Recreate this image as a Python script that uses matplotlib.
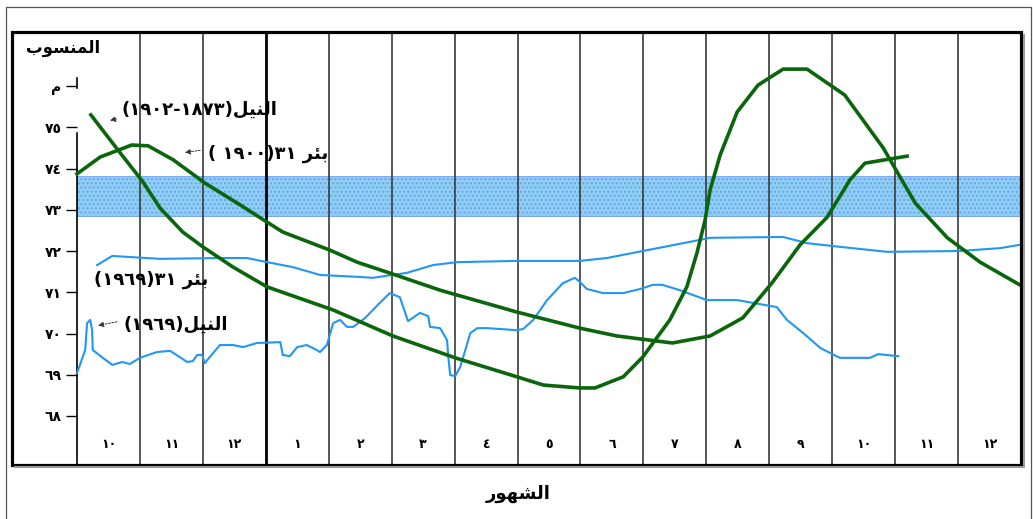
import re
import matplotlib.pyplot as plt
from matplotlib.patches import Rectangle
from matplotlib.lines import Line2D

plt.rcParams['font.family'] = ['DejaVu Sans']

# x = months counted from 1 October, y = water level (m)
nile_old_x = [0.22, 0.65, 1.05, 1.32, 1.68, 2.00, 2.48, 3.02, 4.07, 5.02, 6.01, 6.99, 7.41, 7.99,
              8.23, 8.68, 8.99, 9.42, 9.69, 9.85, 9.98, 10.06, 10.22, 10.49, 10.82, 11.22, 11.60,
              12.20, 12.81, 13.32, 13.83, 14.35, 14.98]
nile_old_y = [75.30, 74.45, 73.67, 73.04, 72.46, 72.10, 71.61, 71.13, 70.57, 69.94, 69.41, 68.95, 68.75, 68.68,
              68.68, 68.95, 69.43, 70.33, 71.13, 71.95, 72.75, 73.48, 74.33, 75.37, 76.02, 76.41, 76.41,
              75.78, 74.50, 73.16, 72.32, 71.73, 71.18]

well_old_x = [0.00, 0.37, 0.87, 1.13, 1.53, 2.03, 2.59, 3.02, 3.27, 4.02, 4.45, 5.02, 5.77, 6.99,
              7.99, 8.58, 9.46, 10.06, 10.58, 11.04, 11.49, 11.92, 12.28, 12.52, 13.19]
well_old_y = [73.87, 74.28, 74.57, 74.55, 74.21, 73.65, 73.12, 72.70, 72.46, 72.02, 71.73, 71.44, 71.05, 70.52,
              70.13, 69.94, 69.77, 69.94, 70.38, 71.22, 72.15, 72.82, 73.72, 74.13, 74.30]

well_69_x = [0.32, 0.56, 1.32, 2.27, 2.70, 3.02, 3.43, 3.86, 4.50, 4.70, 5.24, 5.66, 6.04, 6.99, 7.99,
             8.42, 8.99, 9.90, 10.06, 11.22, 11.60, 12.01, 12.87, 14.03, 14.67, 14.98]
well_69_y = [71.66, 71.88, 71.81, 71.83, 71.83, 71.73, 71.61, 71.42, 71.37, 71.35, 71.47, 71.66, 71.73, 71.76, 71.76,
             71.83, 72.00, 72.27, 72.32, 72.34, 72.19, 72.12, 71.98, 72.00, 72.07, 72.15]

nile_69_x = [0.00, 0.13, 0.16, 0.21, 0.24, 0.25, 0.41, 0.56, 0.72, 0.84, 1.00, 1.27, 1.48, 1.75, 1.84,
             1.91, 1.99, 2.03, 2.11, 2.27, 2.48, 2.64, 2.86, 3.23, 3.27, 3.38, 3.50, 3.65, 3.81, 3.86,
             3.97, 4.07, 4.18, 4.29, 4.39, 4.58, 4.81, 4.97, 5.13, 5.26, 5.45, 5.58, 5.61, 5.77, 5.88,
             5.90, 5.93, 6.01, 6.09, 6.17, 6.25, 6.36, 6.52, 6.99, 7.09, 7.25, 7.47, 7.72, 7.91, 7.99,
             8.10, 8.36, 8.68, 8.95, 9.15, 9.30, 9.58, 10.01, 10.49, 11.12, 11.28, 11.54, 11.81, 12.12,
             12.60, 12.73, 13.05]
nile_69_y = [69.04, 69.60, 70.25, 70.33, 70.08, 69.60, 69.41, 69.24, 69.31, 69.26, 69.41, 69.55, 69.58, 69.31, 69.33,
             69.48, 69.48, 69.28, 69.43, 69.72, 69.72, 69.67, 69.77, 69.79, 69.48, 69.45, 69.67, 69.72, 69.60, 69.55,
             69.72, 70.25, 70.33, 70.16, 70.16, 70.38, 70.74, 70.98, 70.88, 70.30, 70.50, 70.42, 70.16, 70.13, 69.84,
             69.43, 68.99, 68.97, 69.19, 69.60, 70.01, 70.13, 70.13, 70.08, 70.11, 70.33, 70.81, 71.22, 71.35, 71.25,
             71.08, 70.98, 70.98, 71.08, 71.18, 71.18, 71.05, 70.81, 70.81, 70.64, 70.33, 70.01, 69.65, 69.41,
             69.41, 69.50, 69.45]

band_low, band_high = 72.856, 73.825
months = [10, 11, 12, 1, 2, 3, 4, 5, 6, 7, 8, 9, 10, 11, 12]
levels = [68, 69, 70, 71, 72, 73, 74, 75, 76]

# crude arabic shaping (matplotlib has no text shaping)
FORMS = {
    'ا': ('\uFE8D', '\uFE8E', None, None),
    'ر': ('\uFEAD', '\uFEAE', None, None),
    'و': ('\uFEED', '\uFEEE', None, None),
    'ل': ('\uFEDD', '\uFEDE', '\uFEDF', '\uFEE0'),
    'م': ('\uFEE1', '\uFEE2', '\uFEE3', '\uFEE4'),
    'ن': ('\uFEE5', '\uFEE6', '\uFEE7', '\uFEE8'),
    'س': ('\uFEB1', '\uFEB2', '\uFEB3', '\uFEB4'),
    'ش': ('\uFEB5', '\uFEB6', '\uFEB7', '\uFEB8'),
    'ب': ('\uFE8F', '\uFE90', '\uFE91', '\uFE92'),
    'ي': ('\uFEF1', '\uFEF2', '\uFEF3', '\uFEF4'),
    'ه': ('\uFEE9', '\uFEEA', '\uFEEB', '\uFEEC'),
    'ئ': ('\uFE89', '\uFE8A', '\uFE8B', '\uFE8C'),
}


def ar(txt):
    out = []
    for i, ch in enumerate(txt):
        if ch not in FORMS:
            out.append(ch)
            continue
        f = FORMS[ch]
        prev = txt[i - 1] if i > 0 else ''
        nxt = txt[i + 1] if i + 1 < len(txt) else ''
        jp = prev in FORMS and FORMS[prev][2] is not None
        jn = nxt in FORMS and f[2] is not None
        if jp and jn:
            out.append(f[3])
        elif jp:
            out.append(f[1])
        elif jn:
            out.append(f[2])
        else:
            out.append(f[0])
    s = ''.join(out)[::-1]
    s = re.sub('[\u0660-\u0669]+', lambda m: m.group(0)[::-1], s)
    return s.translate(str.maketrans('()', ')('))


def num(n):
    return str(n).translate(str.maketrans('0123456789', '٠١٢٣٤٥٦٧٨٩'))


fig = plt.figure(figsize=(10.33, 5.19), dpi=100)
W, H = 1033, 519
ax = fig.add_axes([12 / W, 1 - 464.5 / H, (1021 - 12) / W, (464.5 - 31.7) / H])
ax.set_xlim(-1.033, 15)
ax.set_ylim(66.824, 77.317)

# outer frame
fig.add_artist(Line2D([6 / W, 6 / W, 1031 / W, 1031 / W], [0, 1 - 7 / H, 1 - 7 / H, 0],
                      transform=fig.transFigure, color='#555555', lw=0.9))
# soft shadow of the chart box
fig.add_artist(Line2D([15 / W, 1023.5 / W, 1023.5 / W], [1 - 467 / H, 1 - 467 / H, 1 - 35 / H],
                      transform=fig.transFigure, color='#9a9a9a', lw=1.5))

ax.fill_between([0, 15], band_low, band_high, facecolor='#8ed0f3', edgecolor='#6f9ff0',
                hatch='....', lw=0.6, zorder=1)

ax.vlines([i for i in range(1, 15) if i != 3], 66.824, 77.317, colors='#3a3a3a', lw=1.2, zorder=2)
ax.vlines(3, 66.824, 77.317, colors='black', lw=2.0, zorder=2)

for s in ['top', 'right', 'bottom']:
    ax.spines[s].set_visible(False)
ax.spines['left'].set_position(('data', 0))
ax.spines['left'].set_bounds(66.824, 74.86)
ax.spines['left'].set_linewidth(1.2)
ax.plot([0, 0], [75.95, 76.19], color='black', lw=1.2, zorder=2)
ax.add_patch(Rectangle((0, 0), 1, 1, transform=ax.transAxes, fill=False, lw=2.3,
                       ec='black', clip_on=False, zorder=6))

ax.set_xticks([])
ax.set_yticks(levels)
ax.set_yticklabels([num(v) for v in levels[:-1]] + [ar('م')], fontweight='bold', fontsize=10)
ax.tick_params(axis='y', length=8, width=1, pad=3, direction='out')

for i, m in enumerate(months):
    ax.text(i + 0.5, 67.3, num(m), ha='center', va='center', fontsize=9, fontweight='bold')

green = '#0a660a'
blue = '#2196f3'
ax.plot(nile_old_x, nile_old_y, color=green, lw=2.6, zorder=4, solid_joinstyle='round')
ax.plot(well_old_x, well_old_y, color=green, lw=2.6, zorder=4, solid_joinstyle='round')
ax.plot(well_69_x, well_69_y, color=blue, lw=1.5, zorder=3)
ax.plot(nile_69_x, nile_69_y, color=blue, lw=1.5, zorder=3)

lab = dict(fontsize=13, fontweight='bold', va='center', ha='right', zorder=5)
ax.text(3.19, 75.42, ar('النيل(١٨٧٣-١٩٠٢)'), **lab)
ax.text(3.99, 74.35, ar('بئر ٣١(١٩٠٠ )'), **lab)
ax.text(2.08, 71.30, ar('بئر ٣١(١٩٦٩)'), **lab)
ax.text(2.40, 70.21, ar('النيل(١٩٦٩)'), **lab)

arr = dict(arrowstyle='-|>', linestyle=(0, (2, 1.5)), lw=0.7, color='#333333', mutation_scale=8)
ax.annotate('', xy=(0.48, 75.15), xytext=(0.67, 75.22), arrowprops=arr)
ax.annotate('', xy=(1.67, 74.38), xytext=(2.00, 74.45), arrowprops=arr)
ax.annotate('', xy=(0.29, 70.18), xytext=(0.68, 70.30), arrowprops=arr)

ax.text(-0.22, 76.92, ar('المنسوب'), ha='center', va='center', fontsize=12, fontweight='bold')
fig.text(518 / W, 1 - 494 / H, ar('الشهور'), ha='center', va='center', fontsize=13, fontweight='bold')

fig.savefig('out.png', dpi=100)
